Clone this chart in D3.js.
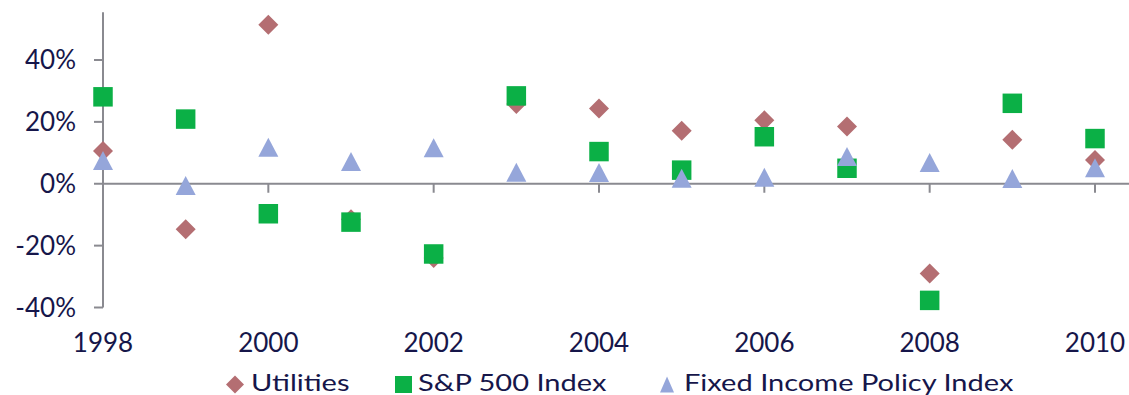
<!DOCTYPE html>
<html>
<head>
<meta charset="utf-8">
<script src="https://cdn.jsdelivr.net/npm/d3@7"></script>
<style>
  html, body { margin: 0; padding: 0; background: #fff; }
  svg { display: block; font-family: Lato, "Open Sans", sans-serif; }
</style>
</head>
<body>
<svg id="chart" width="1129" height="395"></svg>
<script>
// Annual total returns (%) by year
const years = [1998, 1999, 2000, 2001, 2002, 2003, 2004, 2005, 2006, 2007, 2008, 2009, 2010];
const utilities = [10.6, -14.7, 51.4, -11.5, -24.0, 25.8, 24.3, 17.1, 20.5, 18.5, -29.0, 14.2, 7.7];
const sp500 = [28.1, 20.9, -9.7, -12.4, -22.7, 28.4, 10.4, 4.4, 15.2, 5.0, -37.7, 26.0, 14.6];
const fixedIncome = [7.5, -0.6, 11.8, 7.2, 11.6, 3.7, 3.6, 1.8, 2.1, 8.8, 6.9, 1.7, 5.2];

const yTicks = [-40, -20, 0, 20, 40];
const xTicks = [1998, 2000, 2002, 2004, 2006, 2008, 2010];
const seriesNames = ["Utilities", "S&P 500 Index", "Fixed Income Policy Index"];

const textColor = "#16164a";
const axisColor = "#8a8a90";
const colors = ["#b46e72", "#0bb046", "#95a6da"];

const svg = d3.select("#chart");

const x = d3.scaleLinear().domain([1998, 2010]).range([103, 1095]);
const y = d3.scaleLinear().domain([-40, 40]).range([307.5, 60]);
const xMax = 1129;
const yTop = 12.3;

// y axis
const yAxis = svg.append("g").attr("transform", `translate(${x(1998)},0)`);
yAxis.append("line")
  .attr("x1", 0).attr("x2", 0).attr("y1", yTop).attr("y2", y(-40))
  .attr("stroke", axisColor).attr("stroke-width", 2);
yAxis.selectAll("line.tick").data(yTicks).join("line")
  .attr("class", "tick")
  .attr("x1", -9).attr("x2", 0)
  .attr("y1", d => y(d)).attr("y2", d => y(d))
  .attr("stroke", axisColor).attr("stroke-width", 2);
yAxis.selectAll("text").data(yTicks).join("text")
  .attr("x", -27).attr("y", d => y(d))
  .attr("dy", "0.36em")
  .attr("text-anchor", "end")
  .attr("font-size", 26)
  .attr("fill", textColor)
  .text(d => d + "%");

// x axis along zero, labels below the plot
const xAxis = svg.append("g");
xAxis.append("line")
  .attr("x1", x(1998)).attr("x2", xMax).attr("y1", y(0)).attr("y2", y(0))
  .attr("stroke", axisColor).attr("stroke-width", 2);
xAxis.selectAll("line.tick").data(xTicks.slice(1)).join("line")
  .attr("class", "tick")
  .attr("x1", d => x(d)).attr("x2", d => x(d))
  .attr("y1", y(0)).attr("y2", y(0) + 9)
  .attr("stroke", axisColor).attr("stroke-width", 2);
xAxis.selectAll("text").data(xTicks).join("text")
  .attr("x", d => x(d)).attr("y", 352)
  .attr("text-anchor", "middle")
  .attr("font-size", 26)
  .attr("fill", textColor)
  .text(d => d);

// markers
const diamond = d3.symbol().type(d3.symbolSquare).size(200);
const square = d3.symbol().type(d3.symbolSquare).size(380);
const tri = s => {
  const w = s, h = s * 0.95;
  return `M0,${-h / 2}L${w / 2},${h / 2}L${-w / 2},${h / 2}Z`;
};

svg.append("g").selectAll("path").data(years.map((yr, i) => [yr, utilities[i]])).join("path")
  .attr("d", diamond)
  .attr("transform", d => `translate(${x(d[0])},${y(d[1])}) rotate(45)`)
  .attr("fill", colors[0]);

svg.append("g").selectAll("path").data(years.map((yr, i) => [yr, sp500[i]])).join("path")
  .attr("d", square)
  .attr("transform", d => `translate(${x(d[0])},${y(d[1])})`)
  .attr("fill", colors[1]);

svg.append("g").selectAll("path").data(years.map((yr, i) => [yr, fixedIncome[i]])).join("path")
  .attr("d", tri(20))
  .attr("transform", d => `translate(${x(d[0])},${y(d[1])})`)
  .attr("fill", colors[2]);

// legend
const legend = svg.append("g").attr("font-size", 24).attr("fill", textColor);
const legendItems = [
  { name: seriesNames[0], mx: 235, tx: 251, path: d3.symbol().type(d3.symbolSquare).size(162)(), rot: 45, color: colors[0] },
  { name: seriesNames[1], mx: 403.5, tx: 418, path: d3.symbol().type(d3.symbolSquare).size(289)(), rot: 0, color: colors[1] },
  { name: seriesNames[2], mx: 667, tx: 684, path: "M0,-8L7,8L-7,8Z", rot: 0, color: colors[2] }
];
legendItems.forEach(it => {
  legend.append("path")
    .attr("d", it.path)
    .attr("transform", `translate(${it.mx},384.5) rotate(${it.rot})`)
    .attr("fill", it.color);
  // legend type runs wider than the axis labels
  legend.append("text")
    .attr("transform", `translate(${it.tx},391) scale(1.21,1)`)
    .text(it.name);
});
</script>
</body>
</html>
